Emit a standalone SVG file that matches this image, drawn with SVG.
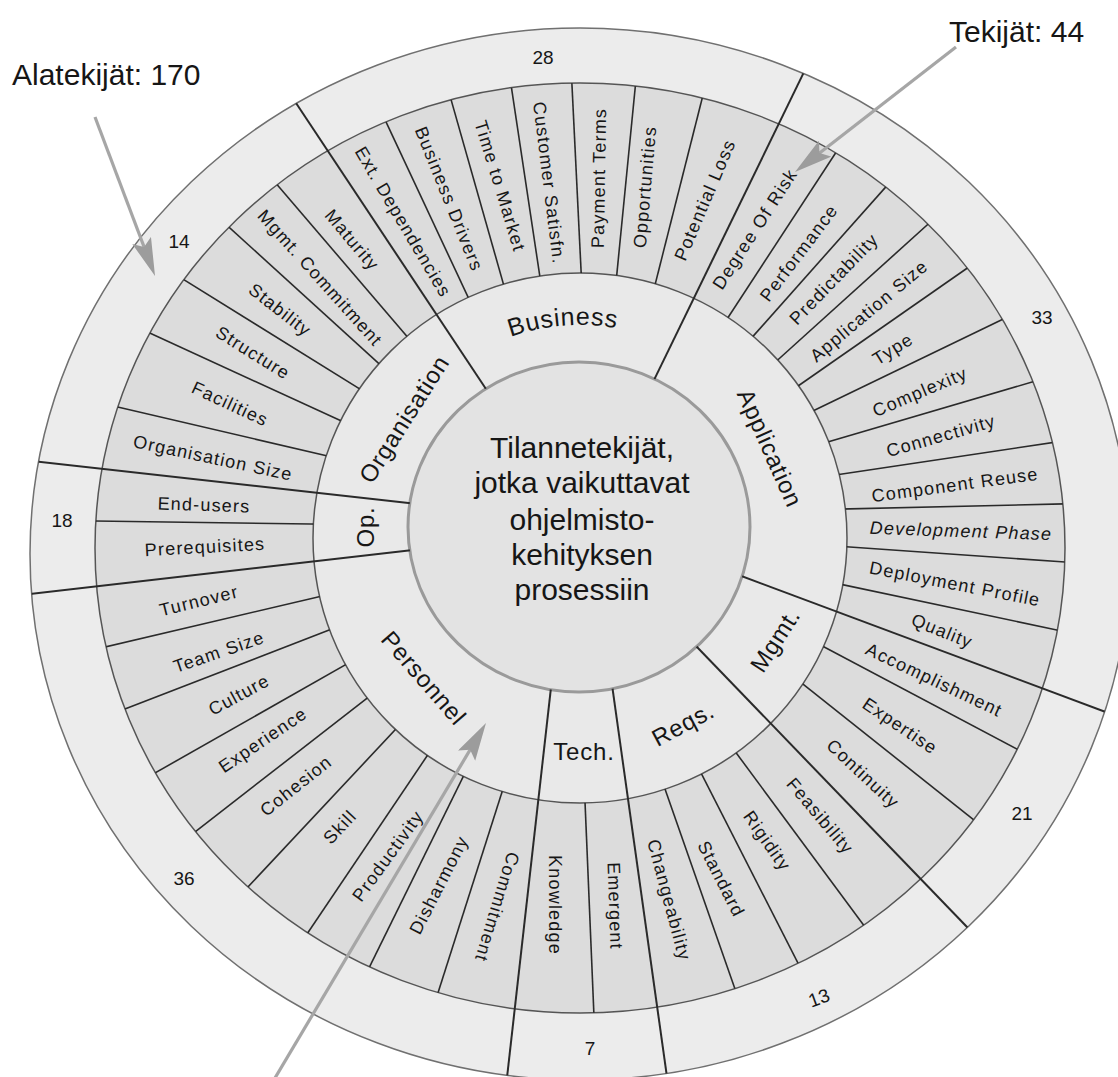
<svg xmlns="http://www.w3.org/2000/svg" width="1118" height="1077" viewBox="0 0 1118 1077">
<style>
text{font-family:"Liberation Sans",Arial,sans-serif;fill:#161616}
.sf{font-size:18px;letter-spacing:1.2px;text-anchor:middle;dominant-baseline:central}
.cat{font-size:24px;letter-spacing:0.8px;text-anchor:middle;dominant-baseline:central}
.num{font-size:19px;text-anchor:middle;dominant-baseline:central}
.ctr{font-size:30px;text-anchor:middle}
.ttl{font-size:30px}
.sl{stroke:#2a2a2a;stroke-width:1.6;fill:none}
.cl{stroke:#2a2a2a;stroke-width:2;fill:none}
.arr{stroke:#a6a6a6;stroke-width:3.2;fill:none;marker-end:url(#ah)}
</style>
<defs>
<marker id="ah" markerUnits="userSpaceOnUse" markerWidth="40" markerHeight="22" refX="28" refY="10" orient="auto"><path d="M0,0 L38,10 L0,20 L7,10 z" fill="#9c9c9c"/></marker>
<clipPath id="cpSub"><path clip-rule="evenodd" d="M95,548 a485,465 0 1,0 970,0 a485,465 0 1,0 -970,0 Z M313,538 a267,265 0 1,0 534,0 a267,265 0 1,0 -534,0 Z"/></clipPath>
<clipPath id="cpCat"><path clip-rule="evenodd" d="M30,554 a550,526 0 1,0 1100,0 a550,526 0 1,0 -1100,0 Z M408,527 a171,165 0 1,0 342,0 a171,165 0 1,0 -342,0 Z"/></clipPath>
<path id="bizArc" d="M419.1,400 A210,210 0 0,1 717.2,376" fill="none"/>
</defs>
<rect width="1118" height="1077" fill="#ffffff"/>
<g id="rings">
<ellipse cx="580" cy="554" rx="550" ry="526" fill="#ececec" stroke="#707070" stroke-width="1.5"/>
<ellipse cx="580" cy="548" rx="485" ry="465" fill="#dcdcdc" stroke="#555" stroke-width="1.5"/>
<ellipse cx="580" cy="538" rx="267" ry="265" fill="#e9e9e9" stroke="#555" stroke-width="1.5"/>
<ellipse cx="579" cy="527" rx="171" ry="165" fill="#e3e3e3" stroke="#9a9a9a" stroke-width="3"/>
</g>
<g id="connectors">
<g clip-path="url(#cpSub)" class="sl">
<line x1="474.5" y1="310.8" x2="380.5" y2="110.2"/>
<line x1="506" y1="293.1" x2="448" y2="88.9"/>
<line x1="541.2" y1="285.4" x2="509.8" y2="76.6"/>
<line x1="581.7" y1="283.6" x2="571.3" y2="71.4"/>
<line x1="615.6" y1="286.6" x2="636.4" y2="75.4"/>
<line x1="652.4" y1="295.2" x2="704.6" y2="88.8"/>
<line x1="720.7" y1="328.7" x2="841.3" y2="144.3"/>
<line x1="745.8" y1="344.4" x2="893.2" y2="178.6"/>
<line x1="769.4" y1="367.5" x2="937.6" y2="215.5"/>
<line x1="788" y1="393" x2="976" y2="262"/>
<line x1="800.4" y1="417" x2="1011.6" y2="315"/>
<line x1="814.9" y1="445.7" x2="1048.1" y2="377.3"/>
<line x1="825.4" y1="476.5" x2="1066.6" y2="440.5"/>
<line x1="827.8" y1="509.4" x2="1077.2" y2="503.6"/>
<line x1="831.8" y1="545.8" x2="1081.2" y2="563.2"/>
<line x1="827" y1="581.4" x2="1074" y2="633.6"/>
<line x1="808.6" y1="638.8" x2="1032.4" y2="757.2"/>
<line x1="790.4" y1="674.2" x2="987.6" y2="830.8"/>
<line x1="726.8" y1="740.2" x2="875.2" y2="940.8"/>
<line x1="693.2" y1="757.6" x2="806.8" y2="980.4"/>
<line x1="659.4" y1="773" x2="740.6" y2="1005"/>
<line x1="584.3" y1="784.9" x2="594.7" y2="1033.1"/>
<line x1="507.2" y1="775.7" x2="431.8" y2="1012.3"/>
<line x1="471.7" y1="759.4" x2="360.3" y2="985.6"/>
<line x1="436.6" y1="741.8" x2="297.4" y2="948.2"/>
<line x1="406.9" y1="717.3" x2="234.1" y2="901.7"/>
<line x1="379.7" y1="688.4" x2="181.3" y2="842.6"/>
<line x1="360.2" y1="656.4" x2="139.8" y2="781.6"/>
<line x1="345.3" y1="623.7" x2="108.7" y2="715.3"/>
<line x1="335" y1="593" x2="88" y2="651"/>
<line x1="329.3" y1="524.2" x2="78.7" y2="520.8"/>
<line x1="339.4" y1="458.8" x2="101.6" y2="403.2"/>
<line x1="351.8" y1="425.8" x2="137.2" y2="327.2"/>
<line x1="368.5" y1="394.4" x2="172.5" y2="272.6"/>
<line x1="388.8" y1="372.7" x2="218.2" y2="217.3"/>
<line x1="413.9" y1="344.6" x2="270.1" y2="176.4"/>
</g>
<g clip-path="url(#cpCat)" class="cl">
<line x1="491.3" y1="397" x2="286.7" y2="89"/>
<line x1="648.6" y1="391.1" x2="810.4" y2="58.9"/>
<line x1="726" y1="570.3" x2="1121" y2="717.7"/>
<line x1="683.5" y1="633" x2="980.5" y2="941"/>
<line x1="610.3" y1="672.7" x2="669.7" y2="1096.3"/>
<line x1="552.2" y1="676.9" x2="504.8" y2="1097.1"/>
<line x1="423.8" y1="548.8" x2="11.2" y2="596.2"/>
<line x1="426.4" y1="505.1" x2="21.6" y2="459.9"/>
</g>
</g>
<g id="center">
<text class="ctr" x="582" y="458">Tilannetekijät,</text>
<text class="ctr" x="582" y="493">jotka vaikuttavat</text>
<text class="ctr" x="582" y="530">ohjelmisto-</text>
<text class="ctr" x="582" y="565">kehityksen</text>
<text class="ctr" x="582" y="600">prosessiin</text>
</g>
<g id="business">
<text style="font-size:25px;letter-spacing:0.8px"><textPath href="#bizArc" startOffset="50%" text-anchor="middle">Business</textPath></text>
<text class="num" x="543" y="57">28</text>
<text class="sf" transform="translate(403,222) rotate(59.4)">Ext. Dependencies</text>
<text class="sf" transform="translate(449,199) rotate(68)">Business Drivers</text>
<text class="sf" transform="translate(500,186) rotate(73)">Time to Market</text>
<text class="sf" transform="translate(549,183) rotate(83)">Customer Satisfn.</text>
<text class="sf" transform="translate(599,178) rotate(-89)">Payment Terms</text>
<text class="sf" transform="translate(645,187) rotate(-85)">Opportunities</text>
<text class="sf" transform="translate(705,200) rotate(-67)">Potential Loss</text>
</g>
<g id="application">
<text class="cat" transform="translate(770,448) rotate(66)">Application</text>
<text class="num" x="1042" y="317">33</text>
<text class="sf" transform="translate(755,229) rotate(-57)">Degree Of Risk</text>
<text class="sf" transform="translate(799,253) rotate(-53)">Performance</text>
<text class="sf" transform="translate(834,279) rotate(-46)">Predictability</text>
<text class="sf" transform="translate(869,311) rotate(-40)">Application Size</text>
<text class="sf" transform="translate(893,349) rotate(-32)">Type</text>
<text class="sf" transform="translate(920,392) rotate(-23)">Complexity</text>
<text class="sf" transform="translate(941,436) rotate(-16)">Connectivity</text>
<text class="sf" transform="translate(955,485) rotate(-7.7)">Component Reuse</text>
<text class="sf" transform="translate(961,531) rotate(2)" font-style="italic">Development Phase</text>
<text class="sf" transform="translate(955,584) rotate(11)">Deployment Profile</text>
<text class="sf" transform="translate(942,631) rotate(22)">Quality</text>
</g>
<g id="mgmt">
<text class="cat" transform="translate(775,640) rotate(-57)">Mgmt.</text>
<text class="num" x="1022" y="813">21</text>
<text class="sf" transform="translate(934,680) rotate(25.4)">Accomplishment</text>
<text class="sf" transform="translate(900,726) rotate(34)">Expertise</text>
<text class="sf" transform="translate(863,774) rotate(43)">Continuity</text>
</g>
<g id="reqs">
<text class="cat" transform="translate(683,724) rotate(-28)">Reqs.</text>
<text class="num" transform="translate(819,998) rotate(-20)">13</text>
<text class="sf" transform="translate(820,816) rotate(50)">Feasibility</text>
<text class="sf" transform="translate(767,841) rotate(55)">Rigidity</text>
<text class="sf" transform="translate(721,879) rotate(63)">Standard</text>
<text class="sf" transform="translate(669,900) rotate(75)">Changeability</text>
</g>
<g id="tech">
<text class="cat" x="584" y="751">Tech.</text>
<text class="num" x="590" y="1048">7</text>
<text class="sf" transform="translate(615,906) rotate(88)">Emergent</text>
<text class="sf" transform="translate(555,905) rotate(90)">Knowledge</text>
</g>
<g id="personnel">
<text class="cat" transform="translate(424,678) rotate(49)">Personnel</text>
<text class="num" x="184" y="878">36</text>
<text class="sf" transform="translate(497,907) rotate(107)">Commitment</text>
<text class="sf" transform="translate(439,885) rotate(-63)">Disharmony</text>
<text class="sf" transform="translate(388,856) rotate(-54)">Productivity</text>
<text class="sf" transform="translate(340,827) rotate(-47)">Skill</text>
<text class="sf" transform="translate(296,786) rotate(-38.5)">Cohesion</text>
<text class="sf" transform="translate(263,740) rotate(-34)">Experience</text>
<text class="sf" transform="translate(239,695) rotate(-28.5)">Culture</text>
<text class="sf" transform="translate(219,652) rotate(-19)">Team Size</text>
<text class="sf" transform="translate(199,601) rotate(-14)">Turnover</text>
</g>
<g id="op">
<text class="cat" transform="translate(365,527) rotate(-90)">Op.</text>
<text class="num" x="62" y="520">18</text>
<text class="sf" transform="translate(205,547) rotate(-3)">Prerequisites</text>
<text class="sf" transform="translate(204,505) rotate(2)">End-users</text>
</g>
<g id="organisation">
<text class="cat" transform="translate(404,419) rotate(-57.5)">Organisation</text>
<text class="num" x="179" y="241">14</text>
<text class="sf" transform="translate(213,458) rotate(12)">Organisation Size</text>
<text class="sf" transform="translate(230,404) rotate(25)">Facilities</text>
<text class="sf" transform="translate(253,353) rotate(32)">Structure</text>
<text class="sf" transform="translate(280,310) rotate(38)">Stability</text>
<text class="sf" transform="translate(320,278) rotate(48)">Mgmt. Commitment</text>
<text class="sf" transform="translate(352,240) rotate(50)">Maturity</text>
</g>
<g id="callouts">
<text class="ttl" x="12" y="85">Alatekijät: 170</text>
<text class="ttl" x="949" y="42">Tekijät: 44</text>
<line class="arr" x1="95" y1="117" x2="151.5" y2="266.6"/>
<line class="arr" x1="956" y1="47" x2="802.9" y2="165.9"/>
<line class="arr" x1="275" y1="1078" x2="480.9" y2="731.6"/>
</g>
</svg>
